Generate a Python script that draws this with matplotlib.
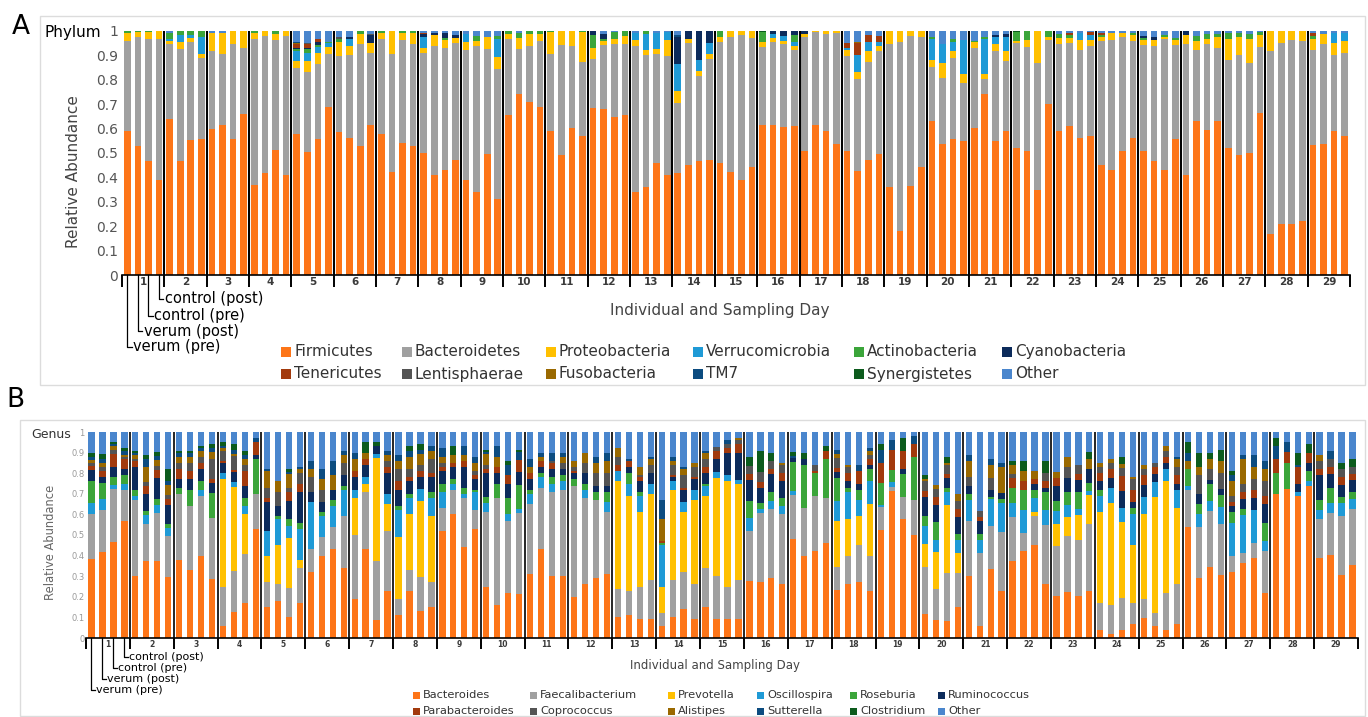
import numpy as np
import matplotlib
matplotlib.use('Agg')
import matplotlib.pyplot as plt
from matplotlib.patches import Rectangle

# ---------------- Panel A: phylum level (4 samples per individual) ----------------
firmicutes = [
    .59, .53, .47, .39, .64, .47, .55, .56, .60, .61, .56, .66, .37, .42, .51, .41,
    .58, .51, .56, .69, .59, .56, .53, .62, .58, .42, .54, .53, .50, .41, .43, .47,
    .39, .34, .50, .31, .66, .74, .71, .69, .59, .49, .60, .57, .69, .68, .65, .66,
    .34, .36, .46, .41, .42, .45, .47, .47, .46, .42, .39, .44, .62, .61, .60, .61,
    .51, .61, .59, .54, .51, .43, .47, .49, .36, .18, .36, .44, .63, .54, .56, .55,
    .60, .74, .55, .59, .52, .51, .35, .70, .59, .61, .56, .57, .45, .43, .51, .56,
    .51, .47, .43, .56, .41, .63, .59, .63, .52, .49, .50, .67, .17, .21, .21, .22,
    .53, .54, .59, .57]
bacteroidetes = [
    .37, .45, .50, .58, .31, .46, .40, .33, .32, .29, .39, .27, .60, .56, .45, .57,
    .27, .33, .31, .22, .31, .34, .42, .30, .39, .48, .42, .42, .41, .53, .50, .48,
    .53, .60, .43, .53, .31, .18, .23, .27, .32, .45, .33, .30, .20, .26, .30, .29,
    .60, .54, .45, .49, .29, .50, .35, .41, .50, .55, .59, .53, .32, .34, .34, .31,
    .47, .38, .40, .46, .39, .38, .40, .42, .59, .77, .61, .53, .22, .27, .33, .24,
    .33, .06, .37, .29, .43, .43, .52, .26, .36, .34, .36, .37, .51, .53, .47, .40,
    .44, .47, .54, .39, .54, .29, .35, .30, .36, .41, .37, .27, .75, .75, .75, .74,
    .39, .41, .31, .34]
proteobacteria = [
    .033, .02, .03, .035, .01, .027, .018, .02, .074, .086, .055, .07, .023, .022, .025, .022,
    .03, .045, .048, .03, .058, .04, .038, .04, .023, .093, .03, .044, .022, .045, .03, .02,
    .034, .022, .05, .05, .02, .048, .052, .03, .089, .059, .063, .123, .045, .02, .02, .033,
    .023, .023, .019, .068, .052, .014, .02, .02, .02, .025, .018, .027, .022, .018, .01, .014,
    .012, .004, .011, .008, .025, .031, .045, .019, .052, .045, .022, .025, .03, .059, .031, .038,
    .023, .02, .03, .041, .01, .03, .131, .014, .025, .02, .044, .023, .016, .027, .016, .023,
    .018, .025, .008, .018, .04, .04, .023, .044, .086, .075, .098, .05, .082, .048, .035, .042,
    .045, .038, .048, .049]
verrucomicrobia = [
    0, 0, 0, 0, .01, .027, .01, .07, 0, 0, 0, 0, 0, 0, 0, 0,
    .04, .035, .025, .014, 0, .027, 0, 0, 0, 0, 0, 0, .044, 0, 0, 0,
    .031, 0, 0, .072, 0, 0, 0, 0, 0, 0, 0, 0, 0, 0, 0, 0,
    .03, .065, .068, .031, .112, 0, .044, .044, 0, 0, 0, 0, 0, .016, .023, .018,
    0, 0, 0, 0, .01, .068, .037, .018, 0, 0, 0, 0, .086, .08, .037, .136,
    0, .143, .027, .057, 0, 0, 0, 0, 0, 0, .027, .02, 0, 0, 0, 0,
    0, 0, 0, 0, 0, 0, 0, 0, 0, 0, 0, 0, 0, 0, 0, 0,
    0, 0, .041, .033]
actinobacteria = [
    .008, .005, .005, 0, .025, .018, .017, .023, 0, 0, 0, 0, .008, 0, .013, 0,
    .01, .015, .006, .006, .012, 0, .014, 0, .008, 0, .008, .008, 0, 0, .01, 0,
    0, .019, 0, .01, .014, .019, .011, .011, .004, 0, 0, .004, .055, .006, .027, .022,
    0, .012, 0, 0, 0, 0, 0, 0, .025, 0, 0, 0, .041, 0, 0, .027,
    0, 0, 0, 0, 0, 0, 0, 0, 0, 0, 0, 0, .006, 0, .014, 0,
    .005, .007, 0, 0, .035, .036, 0, .024, .014, .012, 0, 0, .01, 0, 0, .01,
    .008, 0, .005, .008, 0, .017, .02, .011, .023, .015, .02, .014, 0, 0, 0, 0,
    .01, 0, 0, 0]
cyanobacteria = [
    0, 0, 0, 0, 0, 0, 0, 0, 0, 0, 0, 0, 0, 0, 0, 0,
    .005, .005, .014, 0, 0, .008, 0, .034, 0, 0, 0, 0, .01, .01, .02, .012,
    0, 0, 0, 0, 0, 0, 0, 0, 0, 0, 0, 0, .017, .02, 0, 0,
    0, 0, 0, 0, .11, .034, .12, .049, 0, 0, 0, 0, 0, .011, .019, .017,
    .013, 0, 0, 0, 0, 0, 0, 0, 0, 0, 0, 0, 0, 0, 0, 0,
    0, 0, .007, .011, 0, 0, 0, 0, 0, 0, 0, 0, 0, 0, 0, 0,
    .008, .015, 0, 0, .015, 0, 0, 0, 0, 0, 0, 0, 0, 0, 0, 0,
    0, 0, 0, 0]
tenericutes = [
    0, 0, 0, 0, 0, 0, 0, 0, 0, 0, 0, 0, 0, 0, 0, 0,
    .015, .015, .01, 0, 0, 0, 0, 0, 0, 0, 0, 0, .006, 0, 0, 0,
    0, 0, 0, 0, 0, 0, 0, 0, 0, 0, 0, 0, 0, 0, 0, 0,
    0, 0, 0, 0, 0, 0, 0, 0, 0, 0, 0, 0, 0, 0, 0, 0,
    0, 0, 0, 0, .019, .05, .027, .023, 0, 0, 0, 0, 0, 0, 0, 0,
    0, 0, 0, 0, 0, 0, 0, 0, 0, .006, 0, .014, .006, 0, 0, 0,
    0, 0, 0, 0, 0, 0, 0, 0, 0, 0, 0, 0, 0, 0, 0, 0,
    .011, 0, 0, 0]
lentisphaerae = [
    0, 0, 0, 0, 0, 0, 0, 0, 0, 0, 0, 0, 0, 0, 0, 0,
    0, .004, 0, 0, .008, 0, 0, .004, 0, 0, 0, 0, 0, 0, 0, 0,
    0, 0, 0, 0, 0, 0, 0, 0, 0, 0, 0, 0, 0, 0, 0, 0,
    0, 0, 0, 0, 0, 0, 0, 0, 0, 0, 0, 0, 0, 0, 0, 0,
    0, 0, 0, 0, 0, 0, 0, 0, 0, 0, 0, 0, 0, 0, 0, 0,
    0, 0, 0, 0, 0, 0, 0, 0, 0, 0, 0, 0, 0, 0, 0, 0,
    0, 0, 0, 0, 0, 0, 0, 0, 0, 0, 0, 0, 0, 0, 0, 0,
    0, 0, 0, 0]
fusobacteria = [
    0, 0, 0, 0, 0, 0, 0, 0, 0, 0, 0, 0, 0, 0, 0, 0,
    .004, 0, 0, 0, 0, 0, 0, 0, 0, 0, 0, 0, 0, 0, 0, 0,
    0, 0, 0, 0, 0, 0, 0, 0, 0, 0, 0, 0, 0, 0, 0, 0,
    0, 0, 0, 0, 0, 0, 0, 0, 0, 0, 0, 0, 0, 0, 0, 0,
    0, 0, 0, 0, 0, .004, 0, 0, 0, 0, 0, 0, 0, 0, 0, 0,
    0, 0, 0, 0, 0, 0, 0, 0, 0, 0, 0, 0, 0, 0, 0, 0,
    0, 0, 0, 0, 0, 0, 0, 0, 0, 0, 0, 0, 0, 0, 0, 0,
    0, 0, 0, 0]
tm7 = [
    0, 0, 0, 0, 0, 0, 0, 0, 0, 0, 0, 0, 0, 0, 0, 0,
    .004, 0, 0, 0, 0, 0, 0, 0, 0, 0, 0, 0, 0, 0, 0, 0,
    0, 0, 0, 0, 0, 0, 0, 0, 0, 0, 0, 0, 0, 0, 0, 0,
    0, 0, 0, 0, .008, 0, 0, 0, 0, 0, 0, 0, 0, 0, 0, 0,
    0, 0, 0, 0, 0, 0, 0, 0, 0, 0, 0, 0, 0, 0, 0, 0,
    0, 0, 0, 0, 0, 0, 0, 0, 0, 0, 0, 0, 0, 0, 0, 0,
    0, 0, 0, 0, 0, 0, 0, 0, 0, 0, 0, 0, 0, 0, 0, 0,
    0, 0, 0, 0]
synergistetes = [
    0, 0, 0, 0, 0, 0, 0, 0, 0, 0, 0, 0, 0, 0, 0, 0,
    0, 0, 0, 0, 0, 0, 0, 0, 0, 0, 0, 0, 0, 0, 0, 0,
    0, 0, 0, 0, 0, 0, 0, 0, 0, 0, 0, 0, 0, 0, 0, 0,
    0, 0, 0, 0, 0, 0, 0, 0, 0, 0, 0, 0, .005, 0, 0, 0,
    0, 0, 0, 0, 0, 0, 0, 0, 0, 0, 0, 0, 0, 0, 0, 0,
    0, 0, 0, 0, .005, 0, 0, 0, 0, 0, 0, 0, 0, 0, 0, 0,
    0, 0, 0, 0, 0, 0, 0, 0, 0, 0, 0, 0, 0, 0, 0, 0,
    0, 0, 0, 0]
other_phylum = [
    0, 0, 0, 0, .007, 0, 0, 0, .008, .009, 0, 0, 0, 0, 0, 0,
    .045, .05, .035, .045, .026, .025, 0, .012, 0, 0, 0, 0, .008, .008, .008, .016,
    .014, .022, .026, .022, 0, .008, 0, 0, 0, 0, 0, 0, 0, .013, .005, 0,
    .008, 0, .008, .005, .017, 0, 0, 0, 0, 0, 0, 0, 0, 0, 0, 0,
    0, 0, 0, 0, .05, .046, .018, .022, 0, 0, 0, 0, .025, .053, .031, .039,
    .04, .025, .018, .014, 0, 0, 0, 0, .013, .01, .008, .004, .009, .008, .009, .008,
    .022, .023, .018, .03, 0, .022, .012, .013, .008, .01, .012, .004, 0, 0, 0, 0,
    .01, .014, .008, .008]

phylum_names = ['Firmicutes', 'Bacteroidetes', 'Proteobacteria', 'Verrucomicrobia',
                'Actinobacteria', 'Cyanobacteria', 'Tenericutes', 'Lentisphaerae',
                'Fusobacteria', 'TM7', 'Synergistetes', 'Other']
phylum_values = [firmicutes, bacteroidetes, proteobacteria, verrucomicrobia,
                 actinobacteria, cyanobacteria, tenericutes, lentisphaerae,
                 fusobacteria, tm7, synergistetes, other_phylum]

# ---------------- Panel B: genus level ----------------
bacteroides = [
    .38, .42, .47, .57, .30, .37, .38, .30, .38, .33, .40, .29, .06, .13, .17, .53,
    .15, .18, .10, .17, .32, .40, .43, .34, .19, .43, .09, .23, .11, .23, .13, .15,
    .52, .60, .44, .53, .25, .16, .22, .22, .31, .43, .30, .30, .20, .26, .29, .31,
    .10, .11, .09, .09, .06, .10, .14, .09, .15, .09, .09, .09, .27, .27, .29, .26,
    .49, .40, .42, .46, .24, .26, .27, .23, .53, .73, .57, .50, .12, .09, .08, .15,
    .30, .06, .33, .23, .37, .42, .45, .26, .20, .22, .20, .23, .04, .02, .04, .07,
    .10, .06, .04, .07, .54, .29, .34, .31, .32, .36, .39, .22, .70, .73, .69, .74,
    .39, .40, .31, .35]
faecalibacterium = [
    .22, .21, .26, .15, .37, .18, .24, .20, .32, .31, .29, .30, .19, .20, .24, .17,
    .12, .08, .14, .17, .11, .09, .11, .25, .31, .28, .29, .29, .08, .10, .17, .12,
    .11, .12, .24, .09, .37, .52, .35, .40, .34, .30, .41, .42, .54, .42, .38, .30,
    .14, .12, .16, .19, .06, .18, .18, .17, .19, .21, .16, .19, .24, .33, .33, .34,
    .22, .23, .27, .22, .11, .14, .18, .17, .11, .02, .11, .17, .23, .15, .23, .16,
    .27, .35, .21, .29, .21, .09, .14, .29, .24, .27, .27, .33, .13, .14, .15, .10,
    .09, .06, .18, .19, .18, .25, .27, .25, .08, .05, .07, .20, 0, 0, 0, 0,
    .19, .20, .29, .27]
prevotella = [
    0, 0, 0, 0, 0, 0, 0, 0, 0, 0, 0, 0, .52, .42, .19, 0,
    .13, .19, .24, .04, 0, 0, 0, 0, .18, .04, .51, .13, .30, .27, .37, .32,
    0, 0, 0, 0, 0, 0, 0, 0, 0, 0, 0, 0, 0, 0, 0, 0,
    .52, .46, .36, .42, .13, .44, .29, .41, .35, .47, .51, .46, 0, 0, 0, 0,
    0, 0, 0, 0, .23, .18, .14, .25, 0, 0, 0, 0, .11, .18, .33, .10,
    0, 0, 0, 0, 0, 0, .02, 0, .11, .09, .12, .14, .44, .49, .36, .28,
    .42, .56, .54, .37, 0, 0, 0, 0, 0, 0, 0, 0, 0, 0, 0, 0,
    0, 0, 0, 0]
oscillospira = [
    .05, .05, .02, .03, .02, .04, .04, .04, 0, 0, .03, 0, .03, .02, .04, 0,
    .12, .13, .06, .15, .23, .10, .10, .13, .04, .03, .02, .05, .13, .08, .06, .09,
    .08, .03, .02, .09, .04, 0, .03, .02, .05, .05, .04, .04, 0, .04, 0, .05,
    .05, .06, .08, .05, .20, .04, .05, .05, .05, .03, .03, .02, .06, .02, .04, .04,
    .02, 0, 0, 0, .10, .13, .08, .11, .01, .02, 0, 0, .09, .06, .06, .06,
    .10, .06, .13, .14, .07, .11, .07, .07, .06, .06, .03, .02, .08, .07, .07, .15,
    .08, .07, .06, .09, .02, .06, .05, .08, .16, .18, .16, .05, 0, 0, .02, .02,
    .04, .05, .06, .05]
roseburia = [
    .11, .08, .04, .04, .03, .02, .03, .02, .03, .08, .04, .12, 0, 0, .04, .17,
    0, .01, .03, .03, 0, .02, .03, .02, 0, 0, 0, 0, .02, .02, 0, .03,
    .04, .02, .03, .01, .03, .07, .08, .12, .02, .02, .03, .03, .03, .03, .04, .05,
    0, .05, .02, 0, .01, 0, 0, 0, .01, 0, 0, 0, .08, .03, .04, .04,
    .14, .21, .11, .19, .11, .02, .05, .06, .11, .06, .11, .21, .05, .09, .02, .03,
    .03, .03, .01, .02, .07, .10, .04, .09, .05, .06, .08, .04, .03, 0, 0, .03,
    0, 0, 0, 0, .08, .05, .08, .06, .05, .03, 0, .09, .10, .13, 0, .05,
    .05, .07, .03, .03]
ruminococcus = [
    .05, .03, .05, .03, .11, .08, .10, .09, .04, .05, .06, .05, .05, .05, .06, .02,
    .14, .05, .09, .15, .05, .05, .05, .05, .06, .06, .04, .10, .08, .06, .06, .07,
    .06, .06, .10, .05, .12, .05, .07, .06, .05, .03, .04, .03, .03, .05, .03, .03,
    0, .03, .05, .05, 0, .02, .06, .05, .05, .06, .11, .13, .10, .07, .09, .08,
    .02, .03, 0, 0, .03, .03, .03, .02, 0, 0, .02, 0, .09, .08, .05, .08,
    .04, .06, .03, .03, 0, 0, .03, .02, .07, .07, .06, .07, .04, .05, .08, .03,
    .06, .04, .03, .03, 0, .05, .02, .03, .03, .05, .06, .09, 0, 0, .04, .04,
    .12, .07, .06, .06]
parabacteroides = [
    .02, .03, .06, .05, .03, .04, .04, .03, .05, .04, .03, .02, .01, .01, .07, .06,
    .02, 0, .04, .04, 0, 0, 0, 0, .03, .03, 0, .03, .04, .02, .03, .02,
    .02, .02, .03, .02, .02, .03, .04, .06, .03, .03, .03, 0, .01, 0, 0, 0,
    .03, .03, .02, 0, .01, .01, .01, .01, .03, .04, .02, .04, .03, .03, .02, .04,
    0, 0, .01, .04, .02, .04, .06, .03, .10, .10, .09, .06, .03, .04, .02, .04,
    0, .02, 0, 0, .05, .04, .02, .03, .04, 0, .03, 0, .04, .04, .07, .06,
    .05, .03, .03, .04, 0, 0, 0, 0, .02, .03, .04, .04, .07, .05, .08, .05,
    .03, .03, .04, .03]
coprococcus = [
    .015, .02, .02, .01, .01, .02, .02, .02, .03, .04, .03, .10, .05, .07, .03, 0,
    .05, .07, .02, .05, .07, .06, 0, .06, 0, 0, 0, .03, .06, .04, .03, .07,
    .02, 0, 0, .02, .02, 0, 0, 0, 0, 0, .01, .03, .02, .05, .06, .06,
    .04, 0, .01, .04, 0, .05, .06, .05, .04, .02, .02, .02, .04, .05, .04, .04,
    0, 0, .03, 0, .05, .03, 0, .02, 0, 0, 0, 0, .05, .04, .04, .04,
    .04, .03, .06, 0, .02, 0, 0, .04, 0, .05, .04, 0, .03, .03, .04, .05,
    .03, .02, .03, .04, 0, .09, .05, .08, .03, .04, .05, .07, 0, 0, 0, 0,
    .04, .04, .04, .03]
alistipes = [
    .015, .02, .02, .01, .02, .07, .03, .05, .03, .03, .03, .03, .01, .01, .03, 0,
    .08, .05, .07, .02, .04, .05, .07, .04, .06, .03, 0, .03, .04, .06, .05, .04,
    .03, .04, .03, .04, .05, .05, 0, 0, .03, .02, 0, .03, .03, .05, .05, .06,
    .04, 0, .04, .03, .11, .02, .03, .02, .03, 0, 0, .01, 0, 0, 0, .01,
    0, 0, 0, 0, .02, .01, 0, .02, 0, 0, 0, 0, .01, .02, .01, .03,
    .08, 0, .06, .13, .04, .05, .04, 0, .03, .05, 0, .05, .02, .02, .02, .01,
    .02, 0, .02, .04, .04, .04, .05, .06, .07, .12, .06, .06, 0, 0, 0, 0,
    .03, 0, 0, 0]
sutterella = [
    .015, .02, .01, .02, .01, .04, .02, .02, .02, .02, .01, .02, .01, .02, .02, .02,
    .01, 0, .01, .01, .04, .05, .07, .02, .03, 0, 0, .02, .03, .03, .02, .02,
    .04, 0, .04, .03, .01, .05, .05, .04, .04, .02, .04, .02, 0, 0, .03, .04,
    0, .01, 0, .01, .09, .02, .01, 0, .01, 0, .02, 0, 0, 0, 0, 0,
    .01, 0, 0, 0, .02, 0, .03, .01, .06, .05, 0, .04, 0, 0, 0, 0,
    .03, 0, .03, .02, 0, 0, 0, 0, 0, 0, 0, 0, 0, 0, 0, 0,
    0, 0, 0, .01, .04, 0, 0, 0, .03, .02, .06, .04, .06, .05, .01, 0,
    0, .04, 0, 0]
clostridium = [
    .02, .02, .01, .01, .01, .02, .02, .06, .01, .01, .01, .02, .02, .03, .02, 0,
    0, 0, .01, 0, 0, 0, 0, 0, 0, .05, .02, 0, 0, .02, .03, 0,
    0, .04, 0, 0, .01, 0, .02, .01, 0, 0, 0, 0, 0, 0, 0, 0,
    0, 0, 0, 0, 0, 0, 0, 0, 0, 0, 0, 0, .04, .10, .04, 0,
    .02, .03, 0, .02, 0, 0, 0, 0, .03, 0, .06, 0, .02, 0, .03, 0,
    0, 0, 0, 0, .02, .05, 0, .06, 0, 0, 0, .03, 0, 0, .03, 0,
    0, 0, 0, 0, .05, .07, .03, .05, .02, 0, 0, 0, .04, 0, .06, .04,
    0, 0, .03, .04]
other_genus = [
    .10, .11, .05, .08, .09, .11, .10, .18, .09, .09, .07, .06, .05, .06, .09, .03,
    .18, .24, .18, .17, .14, .18, .14, .09, .10, .05, .05, .09, .11, .07, .06, .07,
    .08, .07, .07, .12, .09, .07, .14, .09, .13, .10, .10, .10, .14, .10, .12, .10,
    .08, .13, .17, .12, .33, .12, .17, .15, .09, .07, .04, .03, .12, .09, .10, .15,
    .10, .10, .16, .07, .09, .16, .16, .08, .06, .04, .03, .02, .21, .26, .12, .30,
    .11, .38, .13, .15, .14, .14, .19, .14, .19, .12, .16, .10, .15, .13, .12, .22,
    .16, .15, .07, .12, .05, .10, .10, .09, .19, .11, .11, .14, .03, .05, .10, .06,
    .11, .09, .15, .13]

genus_names = ['Bacteroides', 'Faecalibacterium', 'Prevotella', 'Oscillospira',
               'Roseburia', 'Ruminococcus', 'Parabacteroides', 'Coprococcus',
               'Alistipes', 'Sutterella', 'Clostridium', 'Other']
genus_values = [bacteroides, faecalibacterium, prevotella, oscillospira, roseburia,
                ruminococcus, parabacteroides, coprococcus, alistipes, sutterella,
                clostridium, other_genus]

colors = ['#FD7518', '#A0A0A0', '#FFC000', '#1F9AD6', '#3BA53A', '#0C2B5B',
          '#A23A0D', '#545454', '#9A6900', '#0C4C80', '#0C5B1D', '#4A86CD']

individuals = [str(i) for i in range(1, 30)]
sample_labels = ['verum (pre)', 'verum (post)', 'control (pre)', 'control (post)']

W, H = 1368, 717
fig = plt.figure(figsize=(W / 100, H / 100), dpi=100)


def fx(x):
    return x / W


def fy(y):
    return 1 - y / H


def panel(box, values, bar_w, tick_size, tick_color, tick_pad, grp_size,
          sep_lw, tick_len):
    left, top, right, bottom = box
    ax = fig.add_axes([fx(left), fy(bottom), fx(right) - fx(left), (bottom - top) / H])
    data = np.array(values, dtype=float)
    data = data / data.sum(axis=0)
    x = np.arange(data.shape[1])
    base = np.zeros(data.shape[1])
    for row, c in zip(data, colors):
        ax.bar(x, row, bar_w, bottom=base, color=c, linewidth=0)
        base += row
    n = data.shape[1]
    bounds = np.arange(-0.5, n, 4)
    ax.vlines(bounds[1:-1], 0, 1, colors='black', lw=sep_lw, zorder=3)
    ax.set_xlim(-0.5, n - 0.5)
    ax.set_ylim(0, 1)
    for s in ['top', 'right', 'left']:
        ax.spines[s].set_visible(False)
    ax.spines['bottom'].set_linewidth(1.2)
    ax.set_yticks(np.linspace(0, 1, 11))
    ax.set_yticklabels(['0'] + ['0.%d' % i for i in range(1, 10)] + ['1'],
                       fontsize=tick_size, color=tick_color)
    ax.tick_params(axis='y', length=0, pad=tick_pad)
    ax.set_xticks(bounds, minor=True)
    ax.tick_params(axis='x', which='minor', length=tick_len, width=1.4, color='black')
    ax.set_xticks(np.arange(1.5, n, 4))
    ax.set_xticklabels(individuals, fontsize=grp_size, fontweight='bold', color='#3a3a3a')
    ax.tick_params(axis='x', which='major', length=0, pad=1.5)
    return ax


def sample_key(ax, depths, text_dx, hook, size):
    for j, (lab, d) in enumerate(zip(sample_labels, depths)):
        ax.plot([j, j, j + hook], [0, d, d], color='black', lw=0.9, clip_on=False)
        ax.text(j + text_dx, d, lab, fontsize=size, color='black', va='center', ha='left')


def legend_rows(names, xs, ys, size, sq, gap):
    for i, name in enumerate(names):
        x, y = xs[i % 6], ys[i // 6]
        fig.add_artist(Rectangle((fx(x), fy(y + sq / 2)), sq / W, sq / H,
                                 transform=fig.transFigure, color=colors[i], lw=0))
        fig.text(fx(x + sq + gap), fy(y), name, fontsize=size, color='#333333',
                 va='center', ha='left')


# panel frames
fig.add_artist(Rectangle((fx(40), fy(385)), (1365 - 40) / W, (385 - 16) / H,
                         transform=fig.transFigure, fill=False, ec='#dcdcdc', lw=1))
fig.add_artist(Rectangle((fx(20), fy(716)), (1365 - 20) / W, (716 - 420) / H,
                         transform=fig.transFigure, fill=False, ec='#dcdcdc', lw=1))

# ---- Panel A ----
axA = panel((122, 31, 1350, 275), phylum_values, 0.63, 10, '#555555', 3, 7.5, 1.5, 8.5)
sample_key(axA, [-0.295, -0.23, -0.168, -0.098], 0.55, 0.4, 10.5)
fig.text(fx(21), fy(27), 'A', fontsize=19, va='center', ha='center')
fig.text(fx(45), fy(33), 'Phylum', fontsize=11, va='center', ha='left')
fig.text(fx(73), fy(172), 'Relative Abundance', fontsize=11, rotation=90,
         color='#444444', va='center', ha='center')
fig.text(fx(720), fy(311), 'Individual and Sampling Day', fontsize=11,
         color='#444444', va='center', ha='center')
legend_rows(phylum_names, [281, 402, 546, 693, 854, 1002], [352, 374], 11, 10, 3)

# ---- Panel B ----
axB = panel((86, 432, 1358, 638), genus_values, 0.57, 6, '#999999', 1, 5.5, 1.2, 8)
sample_key(axB, [-0.252, -0.199, -0.146, -0.092], 0.38, 0.3, 8)
fig.text(fx(15), fy(400), 'B', fontsize=19, va='center', ha='center')
fig.text(fx(31), fy(435), 'Genus', fontsize=9, color='#333333', va='center', ha='left')
fig.text(fx(50), fy(542), 'Relative Abundance', fontsize=8.3, rotation=90,
         color='#666666', va='center', ha='center')
fig.text(fx(715), fy(665), 'Individual and Sampling Day', fontsize=8.5,
         color='#444444', va='center', ha='center')
legend_rows(genus_names, [413, 530, 668, 757, 850, 938], [695, 711], 8.2, 7, 3)

fig.savefig('out.png', dpi=100, facecolor='white')
